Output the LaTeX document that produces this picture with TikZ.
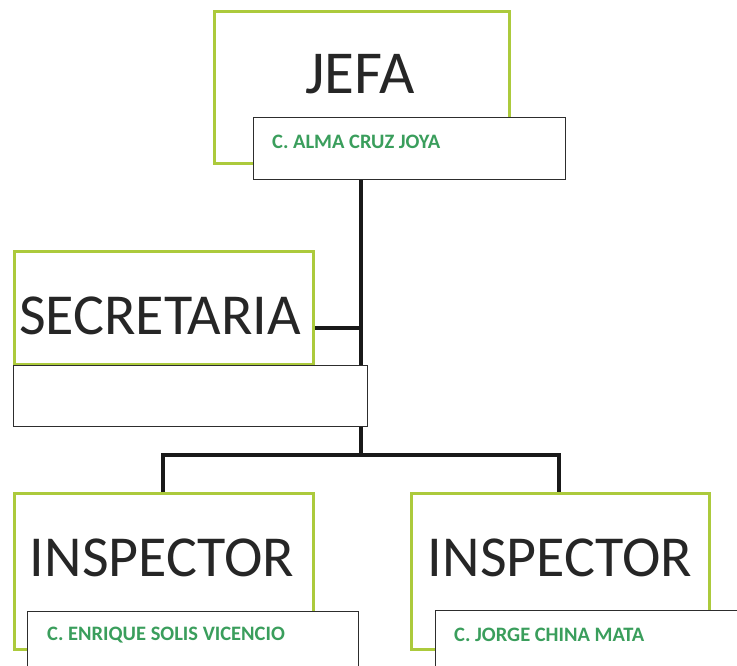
\documentclass[tikz,border=0pt]{standalone}
\usepackage{fontspec}
\setmainfont{Carlito}
\usepackage{tikz}
\usetikzlibrary{positioning}
\definecolor{lima}{RGB}{172,202,60}
\definecolor{nombre}{RGB}{58,158,92}
\definecolor{borde}{RGB}{45,45,45}

\begin{document}
\begin{tikzpicture}
[x=1pt,y=-1pt,
 cargo/.style={draw=lima,line width=3pt,fill=white,anchor=north west,inner sep=0pt},
 titulo/.style={font=\fontsize{58}{60}\selectfont,text=black!85,inner sep=0pt},
 nombrebox/.style={draw=borde,line width=1.3pt,fill=white,anchor=north west,inner sep=0pt},
 nombretxt/.style={font=\fontsize{20.5}{22}\selectfont\bfseries,text=nombre,anchor=west,inner sep=0pt},
 linea/.style={draw=black!90,line width=3.5pt}]
\useasboundingbox[fill=white] (0,0) rectangle (737,666);
% jefa
\node[cargo,minimum width=295pt,minimum height=152pt] (jefa) at (213,10) {};
\node[titulo,font=\fontsize{61}{63}\selectfont] (jefat) at (360,74) {JEFA};
\node[nombrebox,minimum width=312pt,minimum height=62pt] (jefan) at (253,117) {};
\node[nombretxt] (jefanom) at (272,142) {C. ALMA CRUZ JOYA};
% secretaria
\node[cargo,minimum width=299pt,minimum height=113pt] (secre) at (13,250) {};
\node[titulo] (secret) at (160,316) {SECRETARIA};
\node[nombrebox,minimum width=354pt,minimum height=61pt] (secren) at (13,365) {};
% inspectores
\node[cargo,minimum width=299pt,minimum height=156pt] (insp1) at (13,492) {};
\node[titulo] (insp1t) at (162,558) {INSPECTOR};
\node[nombrebox,minimum width=331pt,minimum height=80pt] (insp1n) at (27,611) {};
\node[nombretxt] (insp1nom) at (47,635) {C. ENRIQUE SOLIS VICENCIO};
\node[cargo,minimum width=298pt,minimum height=156pt] (insp2) at (410,492) {};
\node[titulo] (insp2t) at (560,558) {INSPECTOR};
\node[nombrebox,minimum width=330pt,minimum height=80pt] (insp2n) at (435,610) {};
\node[nombretxt] (insp2nom) at (454,635) {C. JORGE CHINA MATA};
% lineas
\coordinate (cruce) at (jefan.south -| 361,0);
\coordinate (rama) at (361,455);
\draw[linea] (jefan.south -| cruce) -- (secren.north -| cruce);
\draw[linea] (secren.south -| cruce) -- (rama);
\draw[linea] (secre.east |- 0,328) -- (361,328);
\draw[linea] (insp1.north -| 163,0) |- (rama) -| (insp2.north -| 559,0);
\end{tikzpicture}
\end{document}
